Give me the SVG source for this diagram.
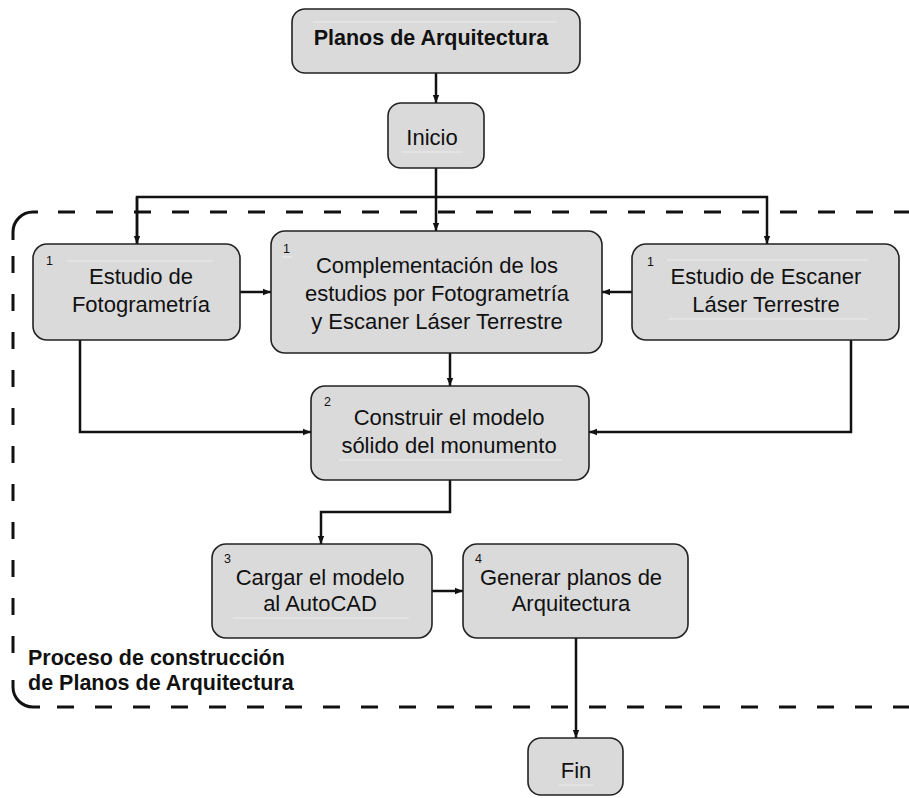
<svg xmlns="http://www.w3.org/2000/svg" width="909" height="798" viewBox="0 0 909 798">
  <style>
    .box { fill: #dadada; stroke: #222; stroke-width: 1.6; }
    .hl { stroke: #ececec; stroke-width: 1.2; }
    .t { font-family: "Liberation Sans", Arial, sans-serif; font-size: 22px; fill: #111; text-anchor: middle; }
    .b { font-family: "Liberation Sans", Arial, sans-serif; font-size: 21.5px; font-weight: bold; fill: #111; }
    .n { font-family: "Liberation Sans", Arial, sans-serif; font-size: 12.5px; fill: #111; }
    .c { fill: none; stroke: #111; stroke-width: 2.5; }
    .frame { fill: none; stroke: #111; stroke-width: 3; }
    .dash { stroke-dasharray: 17 21; }
  </style>
  <defs>
    <marker id="arrow" viewBox="0 0 8 8" refX="8" refY="4" markerWidth="8" markerHeight="8" markerUnits="userSpaceOnUse" orient="auto">
      <path d="M0,0.8 L8,4 L0,7.2 z" fill="#111"/>
    </marker>
  </defs>
  <rect width="909" height="798" fill="#fff"/>

  <!-- process frame: open on the right, rounded on the left -->
  <g id="frame">
    <path class="frame dash" d="M58,212 H920"/>
    <path class="frame" d="M38,212 H33 A20,20 0 0 0 13,232 V240"/>
    <path class="frame dash" d="M13,256 V653"/>
    <path class="frame" d="M13,680 V687 A20,20 0 0 0 33,707 H40"/>
    <path class="frame dash" d="M57,707 H920"/>
    <text class="b" x="28" y="665">Proceso de construcción</text>
    <text class="b" x="28" y="690">de Planos de Arquitectura</text>
  </g>

  <!-- connectors -->
  <g id="connectors">
    <path class="c" d="M436,73 V103" marker-end="url(#arrow)"/>
    <path class="c" d="M436,168 V231" marker-end="url(#arrow)"/>
    <path class="c" d="M137,244 V197 H767 V244" marker-end="url(#arrow)"/>
    <path class="c" d="M137,197 V244" marker-end="url(#arrow)"/>
    <path class="c" d="M240,292 H271" marker-end="url(#arrow)"/>
    <path class="c" d="M632,292 H602" marker-end="url(#arrow)"/>
    <path class="c" d="M450,353 V386" marker-end="url(#arrow)"/>
    <path class="c" d="M80,340 V432 H311" marker-end="url(#arrow)"/>
    <path class="c" d="M851,340 V432 H589" marker-end="url(#arrow)"/>
    <path class="c" d="M450,480 V512 H321 V544" marker-end="url(#arrow)"/>
    <path class="c" d="M432,591 H463" marker-end="url(#arrow)"/>
    <path class="c" d="M576,638 V738" stroke-width="2" marker-end="url(#arrow)"/>
  </g>

  <g id="planos">
    <rect class="box" x="292" y="9" width="288" height="64" rx="13"/>
    <line class="hl" x1="313" y1="22" x2="557" y2="22"/>
    <text class="b" x="431" y="45" text-anchor="middle" font-size="22">Planos de Arquitectura</text>
  </g>

  <g id="inicio">
    <rect class="box" x="388" y="103" width="96" height="65" rx="13"/>
    <line class="hl" x1="402" y1="152" x2="462" y2="152"/>
    <text class="t" x="432" y="145">Inicio</text>
  </g>

  <g id="fotogrametria">
    <rect class="box" x="33" y="244" width="207" height="96" rx="14"/>
    <line class="hl" x1="67" y1="261" x2="213" y2="261"/>
    <text class="n" x="46" y="265">1</text>
    <text class="t" x="141" y="284">Estudio de</text>
    <text class="t" x="141" y="312">Fotogrametría</text>
  </g>

  <g id="complementacion">
    <rect class="box" x="271" y="231" width="331" height="122" rx="14"/>
    <line class="hl" x1="282" y1="257" x2="292" y2="257"/>
    <text class="n" x="283" y="253">1</text>
    <text class="t" x="437" y="273">Complementación de los</text>
    <text class="t" x="437" y="301">estudios por Fotogrametría</text>
    <text class="t" x="437" y="329">y Escaner Láser Terrestre</text>
  </g>

  <g id="escaner">
    <rect class="box" x="632" y="244" width="267" height="96" rx="14"/>
    <line class="hl" x1="667" y1="260" x2="868" y2="260"/>
    <line class="hl" x1="669" y1="319" x2="868" y2="319"/>
    <text class="n" x="647" y="266">1</text>
    <text class="t" x="766" y="284">Estudio de Escaner</text>
    <text class="t" x="766" y="312">Láser Terrestre</text>
  </g>

  <g id="construir">
    <rect class="box" x="311" y="386" width="278" height="94" rx="14"/>
    <line class="hl" x1="339" y1="460" x2="562" y2="460"/>
    <text class="n" x="324" y="406">2</text>
    <text class="t" x="449" y="425">Construir el modelo</text>
    <text class="t" x="449" y="453">sólido del monumento</text>
  </g>

  <g id="cargar">
    <rect class="box" x="212" y="544" width="220" height="94" rx="14"/>
    <line class="hl" x1="233" y1="618" x2="409" y2="618"/>
    <text class="n" x="224" y="563">3</text>
    <text class="t" x="320" y="585">Cargar el modelo</text>
    <text class="t" x="320" y="611">al AutoCAD</text>
  </g>

  <g id="generar">
    <rect class="box" x="463" y="544" width="225" height="94" rx="14"/>
    <text class="n" x="475" y="563">4</text>
    <text class="t" x="571" y="585">Generar planos de</text>
    <text class="t" x="571" y="611">Arquitectura</text>
  </g>

  <g id="fin">
    <rect class="box" x="528" y="738" width="95" height="57" rx="13"/>
    <line class="hl" x1="559" y1="785" x2="594" y2="785"/>
    <text class="t" x="576" y="778">Fin</text>
  </g>
</svg>
